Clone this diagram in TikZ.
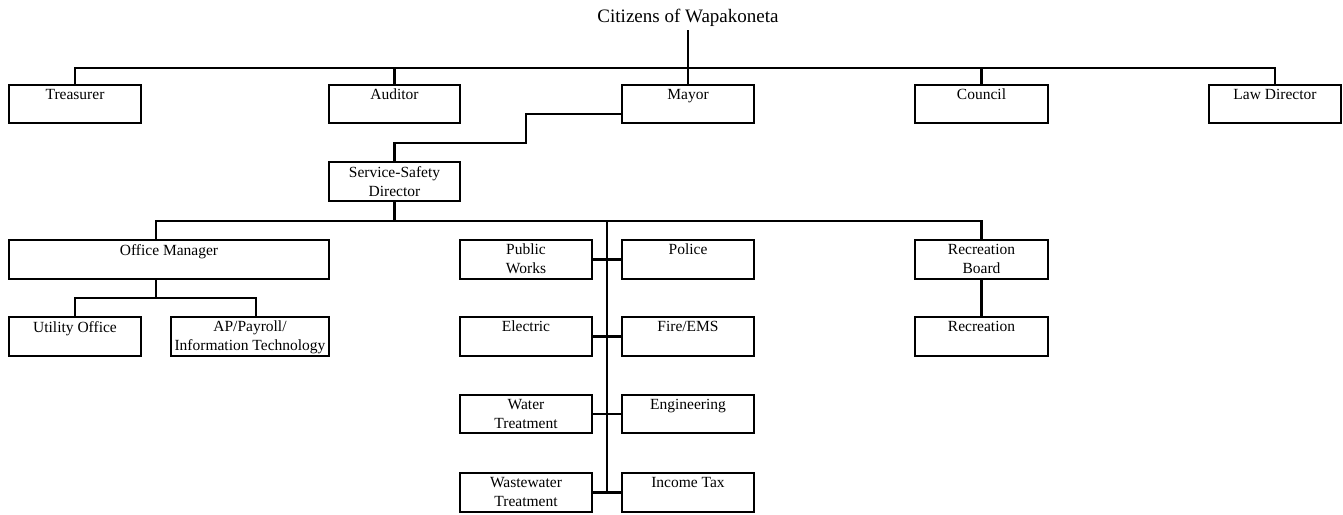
\documentclass[tikz,border=0pt]{standalone}
\usepackage{fontspec}
\setmainfont{Liberation Serif}
\usetikzlibrary{fit,calc}
\tikzset{
  orgbox/.style={draw, line width=2.1pt, inner sep=0pt, rectangle},
  boxtext/.style={font=\fontsize{15.5}{19}\selectfont, align=center, inner sep=0pt, anchor=north},
  conn/.style={line width=2.1pt},
}
\newcommand\obox[6]{%
  \node[orgbox, fit={(#2,#3) (#4,#5)}] (#1) {};
  \node[boxtext] (#1t) at ($(#1.north)+(0,5)$) {#6};
}
\begin{document}
\begin{tikzpicture}[x=1pt,y=-1pt]
\useasboundingbox (0,0) rectangle (1343,514);
\node[font=\fontsize{19}{23}\selectfont, inner sep=0pt, anchor=base] (cit) at (688,22) {Citizens of Wapakoneta};
\obox{tr}{9}{85}{141}{123}{Treasurer}
\obox{aud}{329}{85}{460}{123}{Auditor}
\obox{mayor}{622}{85}{754}{123}{Mayor}
\obox{council}{915}{85}{1048}{123}{Council}
\obox{law}{1209}{85}{1341}{123}{Law Director}
\obox{ssd}{329}{162}{460}{201}{Service-Safety\\Director}
\obox{om}{9}{240}{329}{279}{Office Manager}
\obox{uo}{9}{317}{141}{356}{Utility Office}
\obox{ap}{171}{317}{329}{356}{AP/Payroll/\\Information Technology}
\obox{pw}{460}{240}{592}{279}{Public\\Works}
\obox{pol}{622}{240}{754}{279}{Police}
\obox{rb}{915}{240}{1048}{279}{Recreation\\Board}
\obox{rec}{915}{317}{1048}{356}{Recreation}
\obox{el}{460}{317}{592}{356}{Electric}
\obox{fire}{622}{317}{754}{356}{Fire/EMS}
\obox{wt}{460}{395}{592}{433}{Water\\Treatment}
\obox{eng}{622}{395}{754}{433}{Engineering}
\obox{ww}{460}{473}{592}{512}{Wastewater\\Treatment}
\obox{tax}{622}{473}{754}{512}{Income Tax}
% top level
\coordinate (tb) at (688,68);
\draw[conn] ([yshift=-4pt]cit.south -| mayor.north) -- (mayor.north);
\draw[conn] (tr.north) -- (tr.north |- tb) -- (law.north |- tb) -- (law.north);
\draw[conn] (aud.north) -- (aud.north |- tb);
\draw[conn] (council.north) -- (council.north |- tb);
% mayor to service-safety director
\coordinate (m1) at (526,143);
\draw[conn] ([yshift=-10pt]mayor.west) -| (m1) -| (ssd.north);
% director bar
\coordinate (sb) at (607,221);
\coordinate (omx) at (156,221);
\draw[conn] (ssd.south) -- (ssd.south |- sb);
\draw[conn] (omx |- om.north) -- (omx) -- (rb.north |- sb) -- (rb.north);
\draw[conn] (sb) -- (sb |- ww.east);
\draw[conn] (pw.east) -- (pol.west);
\draw[conn] (el.east) -- (fire.west);
\draw[conn] (wt.east) -- (eng.west);
\draw[conn] (ww.east) -- (tax.west);
\draw[conn] (rb.south) -- (rec.north);
% office manager
\coordinate (ob) at (156,298);
\coordinate (apd) at (256,298);
\draw[conn] (ob |- om.south) -- (ob);
\draw[conn] (uo.north) -- (uo.north |- ob) -- (apd) -- (apd |- ap.north);
\end{tikzpicture}
\end{document}
